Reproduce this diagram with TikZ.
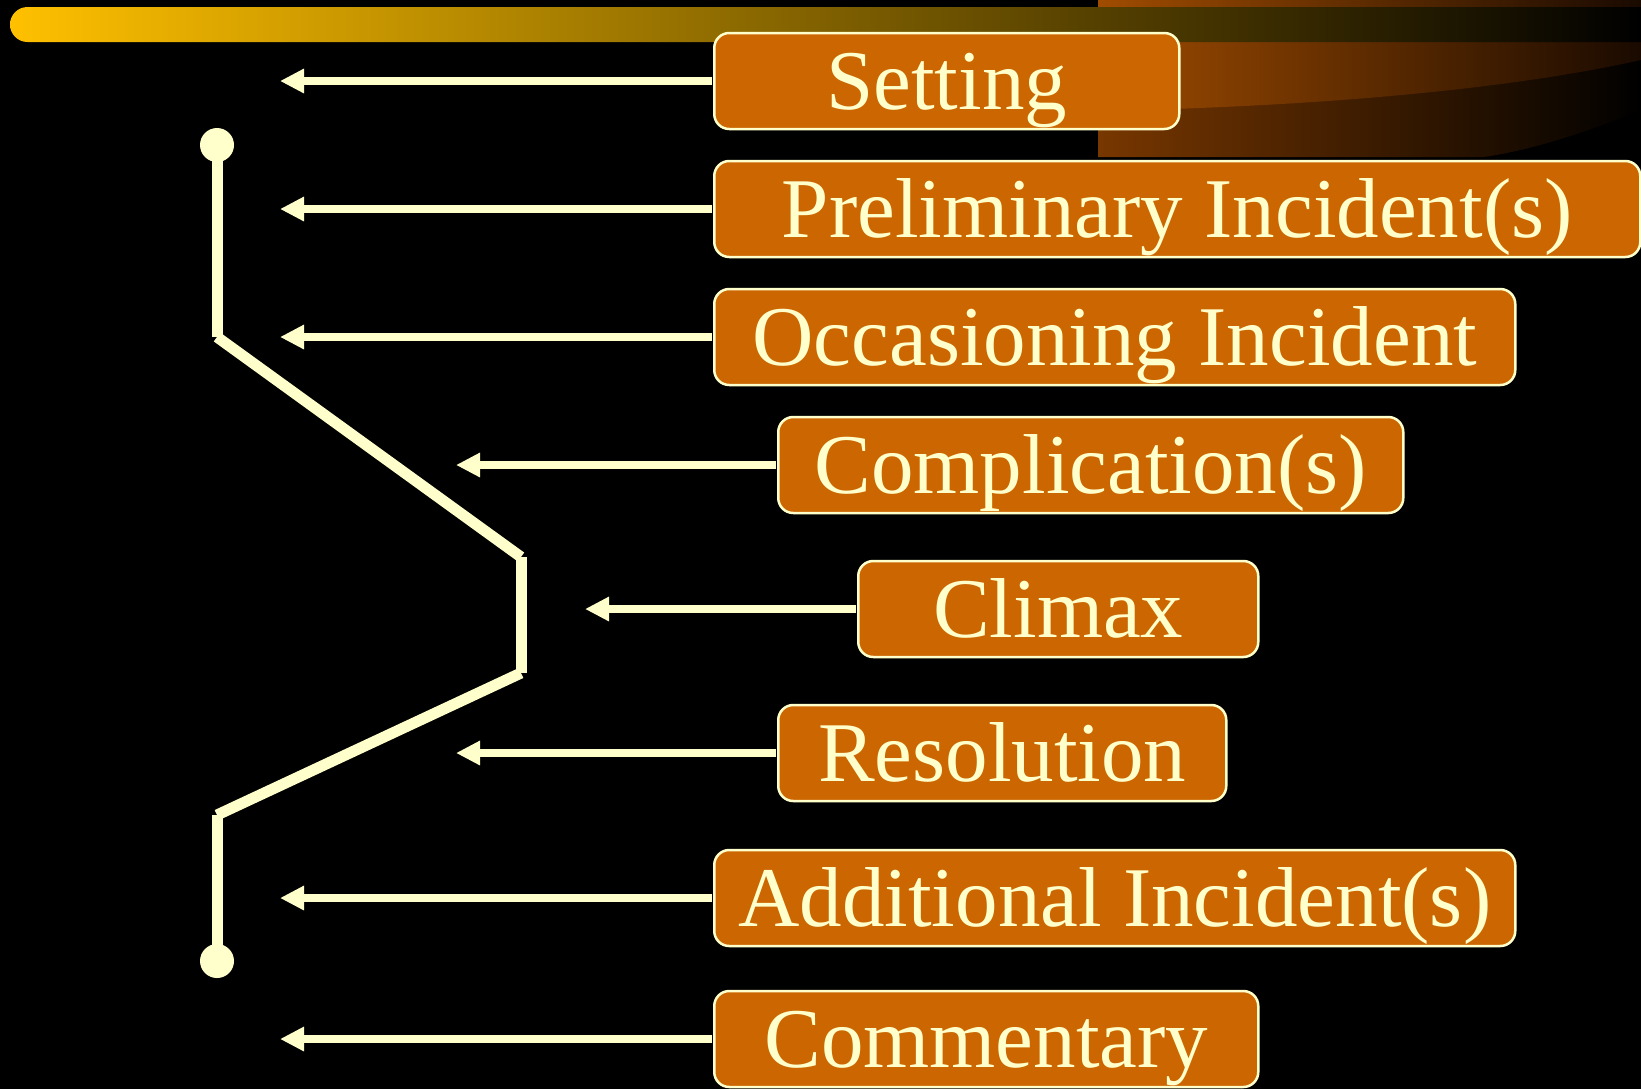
\documentclass[tikz,border=0pt]{standalone}
\usepackage{fontspec}
\setmainfont{Liberation Serif}
\usetikzlibrary{arrows.meta}
\definecolor{cream}{HTML}{FFFFCC}
\definecolor{stagefill}{HTML}{CC6600}
\definecolor{baryellow}{HTML}{FFC000}
\definecolor{bandlight}{HTML}{A04C00}
\definecolor{bandlightend}{HTML}{1A0A00}
\definecolor{banddark}{HTML}{783700}
\begin{document}
\begin{tikzpicture}[x=0.5pt, y=-0.5pt,
    stage/.style={draw=cream, line width=1.25pt, fill=stagefill, rounded corners=7.5pt,
        text=cream, font=\fontsize{42.5pt}{50pt}\selectfont, inner sep=0pt,
        minimum height=48pt, text height=28.1pt, text depth=0pt, anchor=west},
    pointer/.style={draw=cream, line width=4pt, shorten <=0.6pt, -{Triangle[length=12pt,width=11.5pt]}},
    plotline/.style={draw=cream, line width=5.5pt}]
    % 背景
    \fill[black] (0,0) rectangle (1641,1089);
    \useasboundingbox (0,0) rectangle (1641,1089);

    % 右上角装饰
    \shade[left color=banddark, right color=black] (1098,0) -- (1641,0) -- (1641,110)
        .. controls (1580,135) and (1530,150) .. (1484,157) -- (1098,157) -- cycle;
    \shade[left color=bandlight, right color=bandlightend] (1098,0) -- (1641,0) -- (1641,60)
        .. controls (1530,85) and (1350,106) .. (1098,111) -- cycle;

    % 顶部条
    \shade[left color=baryellow, right color=black] (1641,7) -- (27.5,7)
        arc[start angle=90, end angle=270, radius=8.75pt] -- (1641,42) -- cycle;

    % 情节线
    \coordinate (plotstart) at (217,145);
    \coordinate (rise) at (217,337);
    \coordinate (peaktop) at (521,557);
    \coordinate (peakbot) at (521,673);
    \coordinate (fall) at (217,815);
    \coordinate (plotend) at (217,961);
    \foreach \a/\b in {plotstart/rise, rise/peaktop, peaktop/peakbot, peakbot/fall, fall/plotend}
        \draw[plotline] (\a) -- (\b);
    \fill[cream] (plotstart) circle (8.5pt);
    \fill[cream] (plotend) circle (8.5pt);

    % 阶段框
    \node[stage, minimum width=232.5pt] (setting) at (713,81) {Setting};
    \node[stage, minimum width=463pt] (prelim) at (713,209) {Preliminary Incident(s)};
    \node[stage, minimum width=400.5pt] (occasion) at (713,337) {Occasioning Incident};
    \node[stage, minimum width=312.5pt] (complic) at (777,465) {Complication(s)};
    \node[stage, minimum width=200pt] (climax) at (857,609) {Climax};
    \node[stage, minimum width=224pt] (resol) at (777,753) {Resolution};
    \node[stage, minimum width=400.5pt] (addit) at (713,898) {Additional Incident(s)};
    \node[stage, minimum width=272pt] (comment) at (713,1039) {Commentary};

    % 箭头
    \foreach \name/\tipx in {setting/280, prelim/280, occasion/280, complic/456,
                             climax/585, resol/456, addit/280, comment/280} {
        \coordinate (\name-tip) at (\name.west -| \tipx,0);
        \draw[pointer] (\name.west) -- (\name-tip);
    }
\end{tikzpicture}
\end{document}
